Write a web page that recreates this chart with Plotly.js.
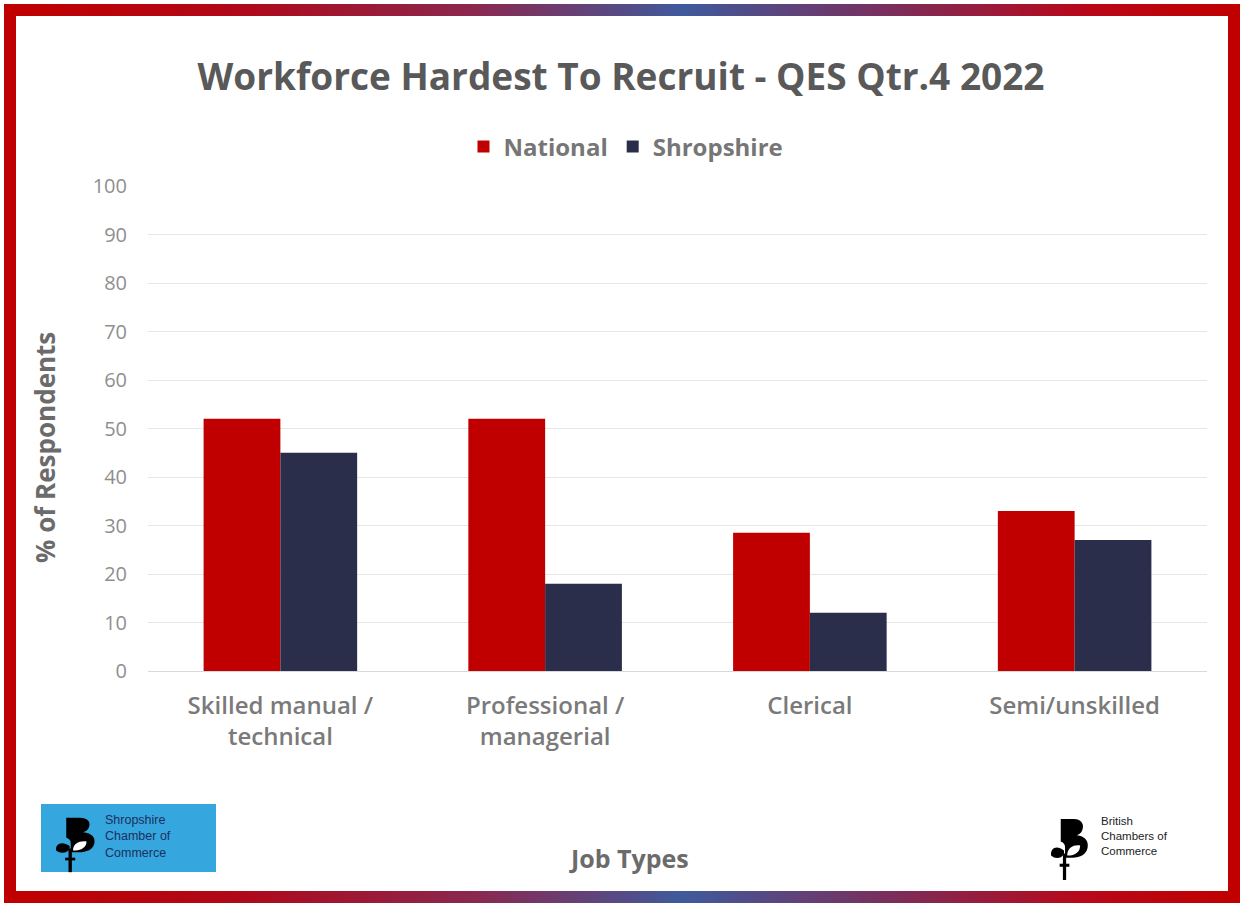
<!DOCTYPE html>
<html>
<head>
<meta charset="utf-8">
<script src="https://cdn.plot.ly/plotly-3.0.1.min.js"></script>
<style>
  html, body { margin: 0; padding: 0; background: #ffffff; }
  #wrap { position: relative; width: 1240px; height: 903px; overflow: hidden; background: #ffffff; }
  #chart { position: absolute; left: 0; top: 0; width: 1240px; height: 903px; }
  #frame {
    position: absolute; left: 4px; top: 4px; width: 1236px; height: 899px;
    box-sizing: border-box; pointer-events: none;
    border: 12px solid transparent;
    border-image: linear-gradient(90deg, #c00000 0%, #b00818 18%, #8a2850 38%, #3f5a9c 55%, #7a2e5c 72%, #b8081a 88%, #c00000 100%) 1;
  }
</style>
</head>
<body>
<div id="wrap">
  <div id="chart"></div>
  <div id="frame"></div>
</div>
<script>
const categories = ["Skilled manual /<br>technical", "Professional /<br>managerial", "Clerical", "Semi/unskilled"];
const national = [52, 52, 28.5, 33];
const shropshire = [45, 18, 12, 27];
const yTicks = [0, 10, 20, 30, 40, 50, 60, 70, 80, 90, 100];

// plot-area pixel geometry helpers for decorations
const PL = 148, PR = 1207, PT = 186, PB = 671;
const px = v => (v - PL) / (PR - PL);
const py = v => (PB - v) / (PB - PT);

function glyph(leafColor) {
  const svg = `<svg xmlns="http://www.w3.org/2000/svg" viewBox="0 0 40 64" width="40" height="64">
    <path d="M10 2 H22 C30 2 32 8 30 13 C29 16 27 17 25 18 C33 19 36 24 35 30 C34 37 28 40 21 40 H14 V30 C14 26 12 25 10 24 Z" fill="#000"/>
    <path d="M16 38 C16 30 22 27 28 28 C28 34 24 38 16 38 Z" fill="${leafColor}"/>
    <path d="M13 33 C6 27 0 31 1 38 C5 42 11 41 13 36 Z" fill="#000"/>
    <rect x="12" y="36" width="3" height="26" fill="#000"/>
    <rect x="9" y="46" width="9" height="3" fill="#000"/>
  </svg>`;
  return "data:image/svg+xml;base64," + btoa(svg);
}

const traces = [
  { type: "bar", name: "National", x: categories, y: national,
    marker: { color: "#c00000" }, hoverinfo: "y" },
  { type: "bar", name: "Shropshire", x: categories, y: shropshire,
    marker: { color: "#2b2e4a" }, hoverinfo: "y" }
];

const FONT = "'Open Sans', 'Noto Sans', sans-serif";

const layout = {
  width: 1240, height: 903,
  margin: { l: PL, r: 1240 - PR, t: PT, b: 903 - PB, pad: 0 },
  paper_bgcolor: "#ffffff", plot_bgcolor: "#ffffff",
  font: { family: FONT, color: "#7f7f7f" },
  title: { text: "<b>Workforce Hardest To Recruit - QES Qtr.4 2022</b>",
    font: { family: FONT, size: 37, color: "#595959" },
    x: px(621), xref: "paper", xanchor: "center",
    y: 1 - 77 / 903, yref: "container", yanchor: "middle" },
  barmode: "group", bargap: 0.42, bargroupgap: 0,
  showlegend: true,
  legend: { orientation: "h", x: px(626), xanchor: "center", y: py(147), yanchor: "middle",
    font: { family: FONT, size: 24, color: "#767676", weight: "bold" },
    itemwidth: 30, traceorder: "normal" },
  xaxis: {
    type: "category", showgrid: false, zeroline: false, showline: false,
    ticks: "", ticklabelstandoff: 18,
    tickfont: { family: FONT, size: 24, color: "#7a7a7a", weight: 600 }
  },
  yaxis: {
    range: [0, 100], tickvals: yTicks, ticktext: yTicks.map(String),
    showgrid: true, gridcolor: "#e6e6e6", gridwidth: 1,
    zeroline: true, zerolinecolor: "#d9d9d9", zerolinewidth: 1,
    showline: false, ticks: "", ticklabelstandoff: 20,
    tickfont: { family: FONT, size: 20, color: "#8f8f8f" }
  },
  shapes: [
    { type: "rect", xref: "paper", yref: "paper",
      x0: px(41), x1: px(216), y0: py(872), y1: py(804),
      fillcolor: "#36a6de", line: { width: 0 }, layer: "below" }
  ],
  images: [
    { source: glyph("#ffffff"), xref: "paper", yref: "paper",
      x: px(55), y: py(816), sizex: px(100) - px(55), sizey: py(816) - py(874),
      xanchor: "left", yanchor: "top", sizing: "stretch", layer: "above" },
    { source: glyph("#ffffff"), xref: "paper", yref: "paper",
      x: px(1050), y: py(817), sizex: px(1093) - px(1050), sizey: py(817) - py(882),
      xanchor: "left", yanchor: "top", sizing: "stretch", layer: "above" }
  ],
  annotations: [
    { text: "<b>% of Respondents</b>", xref: "paper", yref: "paper",
      x: px(45), y: py(448), xanchor: "center", yanchor: "middle", textangle: -90,
      showarrow: false, font: { family: FONT, size: 26, color: "#6b6b6b" } },
    { text: "<b>Job Types</b>", xref: "paper", yref: "paper",
      x: px(629), y: py(858), xanchor: "center", yanchor: "middle",
      showarrow: false, font: { family: FONT, size: 25, color: "#6b6b6b" } },
    { text: "Shropshire<br>Chamber of<br>Commerce", xref: "paper", yref: "paper",
      x: px(103), y: py(836), xanchor: "left", yanchor: "middle", align: "left",
      showarrow: false, font: { family: "Liberation Sans, Arial, sans-serif", size: 12.5, color: "#1c2f5e" } },
    { text: "British<br>Chambers of<br>Commerce", xref: "paper", yref: "paper",
      x: px(1099), y: py(836), xanchor: "left", yanchor: "middle", align: "left",
      showarrow: false, font: { family: "Liberation Sans, Arial, sans-serif", size: 11.5, color: "#222222" } }
  ]
};

Plotly.newPlot("chart", traces, layout, { displayModeBar: false, staticPlot: true });
</script>
</body>
</html>
